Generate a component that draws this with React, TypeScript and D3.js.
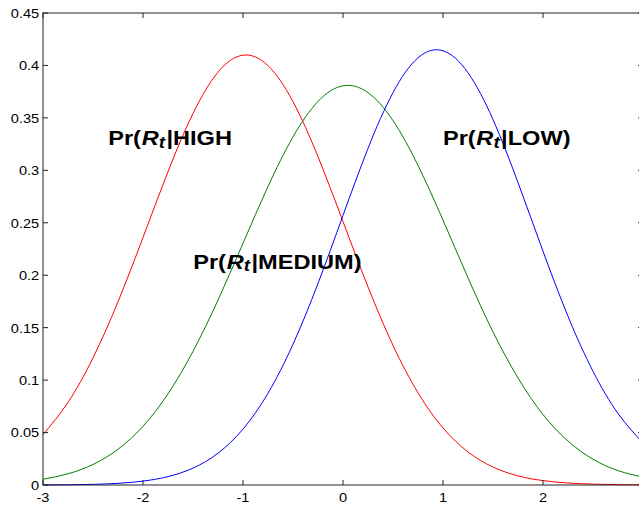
import React from 'react';
import * as d3 from 'd3';

const xGrid = [
  -3, -2.75, -2.5, -2.25, -2, -1.75, -1.5, -1.25, -1, -0.75, -0.5, -0.25,
  0, 0.25, 0.5, 0.75, 1, 1.25, 1.5, 1.75, 2, 2.25, 2.5, 2.75, 3,
];

// Pr(R_t | HIGH)  (red)
const highValues = [
  0.048, 0.0788, 0.1212, 0.1747, 0.236, 0.2987, 0.3542, 0.3936, 0.4098, 0.3998, 0.3655, 0.313,
  0.2512, 0.1889, 0.1331, 0.0879, 0.0544, 0.0315, 0.0171, 0.0087, 0.0042, 0.0019, 0.0008, 0.0003, 0.0001,
];

// Pr(R_t | MEDIUM)  (green)
const mediumValues = [
  0.0055, 0.0107, 0.0196, 0.0341, 0.056, 0.0869, 0.1274, 0.1763, 0.2304, 0.2845, 0.3319, 0.3657,
  0.3806, 0.3741, 0.3474, 0.3047, 0.2525, 0.1975, 0.146, 0.102, 0.0672, 0.0419, 0.0246, 0.0137, 0.0075,
];

// Pr(R_t | LOW)  (blue)
const lowValues = [
  0.0001, 0.0002, 0.0006, 0.0016, 0.0037, 0.008, 0.0161, 0.0303, 0.0533, 0.0875, 0.1342, 0.1922,
  0.257, 0.3209, 0.3741, 0.4073, 0.414, 0.393, 0.3484, 0.2883, 0.2229, 0.1608, 0.1084, 0.0682, 0.0401,
];

const xTickValues = [-3, -2, -1, 0, 1, 2, 3];
const xTickLabels = ['-3', '-2', '-1', '0', '1', '2', '3'];
const yTickValues = [0, 0.05, 0.1, 0.15, 0.2, 0.25, 0.3, 0.35, 0.4, 0.45];
const yTickLabels = ['0', '0.05', '0.1', '0.15', '0.2', '0.25', '0.3', '0.35', '0.4', '0.45'];

const conditionLabels = ['|HIGH', '|LOW)', '|MEDIUM)'];

const W = 639;
const H = 507;
const LEFT = 43;
const RIGHT = 643;
const TOP = 13;
const BOTTOM = 485;
const TICK = 5;
const FONT = '"Liberation Sans", Arial, Helvetica, sans-serif';

const labelAnchors = [
  { x: 108.2, y: 145 },
  { x: 442.9, y: 145 },
  { x: 193.2, y: 268.5 },
];

export default function App() {
  const x = d3.scaleLinear().domain([-3, 3]).range([LEFT, RIGHT]);
  const y = d3.scaleLinear().domain([0, 0.45]).range([BOTTOM, TOP]);

  const line = d3
    .line<number>()
    .x((_, i) => x(xGrid[i]))
    .y((d) => y(d))
    .curve(d3.curveNatural);

  const series = [
    { values: highValues, color: '#ff0000' },
    { values: mediumValues, color: '#008000' },
    { values: lowValues, color: '#0000ff' },
  ];

  return (
    <svg
      width={W}
      height={H}
      style={{ position: 'absolute', left: 0, top: 0, background: '#fff' }}
      fontFamily={FONT}
    >
      <rect x={0} y={0} width={W} height={H} fill="#fff" />
      {series.map((s, i) => (
        <path key={i} d={line(s.values) || ''} fill="none" stroke={s.color} strokeWidth={1} />
      ))}
      <rect x={LEFT} y={TOP} width={RIGHT - LEFT} height={BOTTOM - TOP} fill="none" stroke="#222" strokeWidth={1} />
      {xTickValues.map((v, i) => (
        <g key={'xt' + i}>
          <line x1={x(v)} x2={x(v)} y1={BOTTOM} y2={BOTTOM - TICK} stroke="#222" />
          <line x1={x(v)} x2={x(v)} y1={TOP} y2={TOP + TICK} stroke="#222" />
          <text
            transform={`translate(${x(v)},502) scale(1.08,1)`}
            textAnchor="middle"
            fontSize={13.5}
            fill="#000"
          >
            {xTickLabels[i]}
          </text>
        </g>
      ))}
      {yTickValues.map((v, i) => (
        <g key={'yt' + i}>
          <line x1={LEFT} x2={LEFT + TICK} y1={y(v)} y2={y(v)} stroke="#222" />
          <line x1={RIGHT} x2={RIGHT - TICK} y1={y(v)} y2={y(v)} stroke="#222" />
          <text
            transform={`translate(39.2,${y(v) + 4.9}) scale(1.08,1)`}
            textAnchor="end"
            fontSize={13.5}
            fill="#000"
          >
            {yTickLabels[i]}
          </text>
        </g>
      ))}
      {conditionLabels.map((c, i) => (
        <text
          key={'a' + i}
          transform={`translate(${labelAnchors[i].x},${labelAnchors[i].y}) scale(1.18,1)`}
          fontSize={20}
          fontWeight="bold"
          fill="#000"
        >
          <tspan>Pr(</tspan>
          <tspan fontStyle="italic" dx={0.6}>R</tspan>
          <tspan fontStyle="italic" fontSize={16} dy={2.5}>t</tspan>
          <tspan dy={-2.5} dx={1.2}>{c}</tspan>
        </text>
      ))}
    </svg>
  );
}
